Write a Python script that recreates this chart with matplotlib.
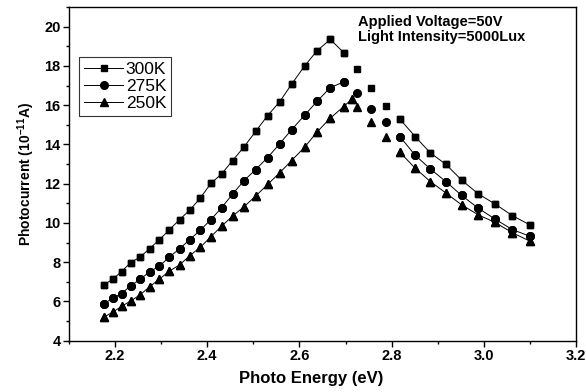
import numpy as np
import matplotlib
matplotlib.use('Agg')
import matplotlib.pyplot as plt
from matplotlib.ticker import MultipleLocator

plt.rcParams['font.family'] = ['Liberation Sans', 'DejaVu Sans']
plt.rcParams['mathtext.fontset'] = 'custom'
plt.rcParams['mathtext.rm'] = 'Liberation Sans:bold'
plt.rcParams['mathtext.bf'] = 'Liberation Sans:bold'

# photon energy (eV), same for 300K and 275K
energy = [2.175, 2.195, 2.214, 2.234, 2.255, 2.275, 2.296, 2.318, 2.340, 2.362,
          2.385, 2.408, 2.431, 2.455, 2.480, 2.505, 2.531, 2.557, 2.583, 2.611,
          2.638, 2.667, 2.696, 2.725, 2.756, 2.787, 2.818, 2.851, 2.884, 2.918,
          2.952, 2.988, 3.024, 3.062, 3.100]

i_300 = [6.84, 7.13, 7.52, 7.98, 8.27, 8.69, 9.14, 9.65, 10.17, 10.65,
         11.27, 12.02, 12.49, 13.18, 13.88, 14.66, 15.47, 16.17, 17.07, 17.99,
         18.77, 19.35, 18.68, 17.85, 16.87, 15.97, 15.29, 14.40, 13.57, 12.98,
         12.18, 11.48, 10.97, 10.37, 9.90]

i_275 = [5.87, 6.16, 6.40, 6.80, 7.13, 7.52, 7.79, 8.27, 8.68, 9.15,
         9.63, 10.17, 10.77, 11.47, 12.16, 12.72, 13.33, 14.03, 14.75, 15.48,
         16.19, 16.90, 17.18, 16.60, 15.78, 15.15, 14.40, 13.45, 12.75, 12.10,
         11.40, 10.75, 10.20, 9.66, 9.32]

# 250K has one extra point near the peak
energy_250 = [2.175, 2.195, 2.214, 2.234, 2.255, 2.275, 2.296, 2.318, 2.340, 2.362,
              2.385, 2.408, 2.431, 2.455, 2.480, 2.505, 2.531, 2.557, 2.583, 2.611,
              2.638, 2.667, 2.696, 2.714, 2.725, 2.756, 2.787, 2.818, 2.851, 2.884,
              2.918, 2.952, 2.988, 3.024, 3.062, 3.100]

i_250 = [5.19, 5.45, 5.75, 6.02, 6.35, 6.75, 7.13, 7.55, 7.86, 8.33,
         8.76, 9.30, 9.83, 10.35, 10.83, 11.37, 11.96, 12.55, 13.18, 13.85,
         14.63, 15.34, 15.93, 16.31, 15.90, 15.15, 14.40, 13.60, 12.79, 12.11,
         11.52, 10.92, 10.41, 10.03, 9.50, 9.07]

# points that are not joined by the connecting line in the original
gap_pts = [2.725, 2.756, 2.787]

labels = ['300K', '275K', '250K']
markers = ['s', 'o', '^']
msizes = [5, 5.5, 6]

fig = plt.figure(figsize=(5.86, 3.92), dpi=100)
ax = fig.add_axes([0.1177, 0.131, 0.8652, 0.851])

series = [(energy, i_300), (energy, i_275), (energy_250, i_250)]
for (xs, ys), lab, mk, ms in zip(series, labels, markers, msizes):
    xs = np.array(xs)
    ys = np.array(ys, dtype=float)
    yl = np.where(np.isin(xs, gap_pts), np.nan, ys)
    ax.plot(xs, yl, color='k', lw=0.7, marker=mk, ms=ms, label=lab)
    ax.plot(xs, ys, ls='none', color='k', marker=mk, ms=ms)

ax.set_xlim(2.1, 3.2)
ax.set_ylim(4, 21)
ax.xaxis.set_major_locator(MultipleLocator(0.2))
ax.xaxis.set_minor_locator(MultipleLocator(0.1))
ax.yaxis.set_major_locator(MultipleLocator(2))
ax.yaxis.set_minor_locator(MultipleLocator(1))
ax.tick_params(which='major', direction='out', length=4, width=1, labelsize=10.5, pad=2)
ax.tick_params(which='minor', direction='out', length=2.5, width=1)
for lbl in ax.get_xticklabels() + ax.get_yticklabels():
    lbl.set_fontweight('bold')
for sp in ax.spines.values():
    sp.set_linewidth(1)

ax.set_xlabel('Photo Energy (eV)', fontsize=12, fontweight='bold')
ax.xaxis.set_label_coords(0.478, -0.092)
ax.set_ylabel('Photocurrent (10$^{-11}$A)', fontsize=10, fontweight='bold', labelpad=5)

ax.text(2.727, 20.6, 'Applied Voltage=50V\nLight Intensity=5000Lux',
        fontsize=10.5, fontweight='bold', va='top', ha='left', linespacing=1.1)

leg = ax.legend(loc='upper left', bbox_to_anchor=(0.02, 0.85), fontsize=12.5,
                handlelength=2.25, handletextpad=0.15, labelspacing=0.1,
                borderpad=0.28, borderaxespad=0, frameon=True, fancybox=False)
leg.get_frame().set_edgecolor('k')
leg.get_frame().set_linewidth(0.8)

fig.savefig('out.png', dpi=100)
